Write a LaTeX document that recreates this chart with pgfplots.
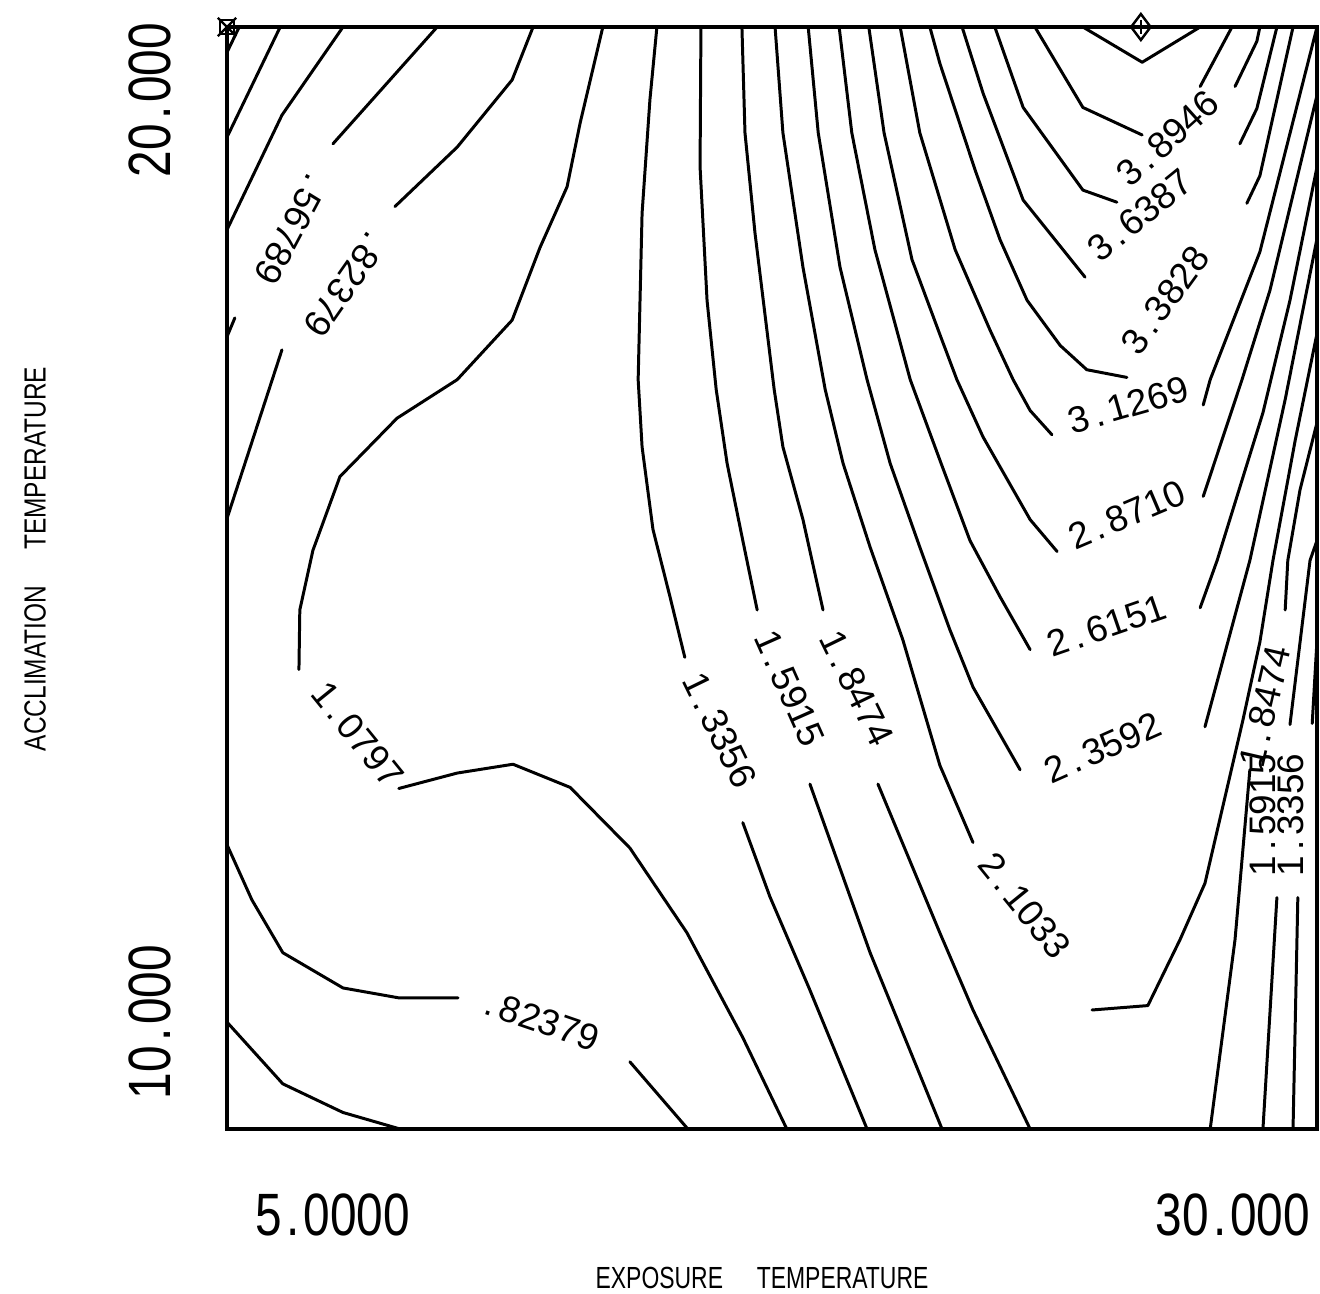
\documentclass[border=0pt]{standalone}
\usepackage{fontspec}
\usepackage{graphicx}
\usepackage{pgfplots}
\pgfplotsset{compat=1.18}
\newfontfamily\plotfont{Liberation Sans}

% plotter-style numbers: decimal point given its own cell
\newcommand\dd{\kern0.5mm.\kern0.5mm}
\newcommand\lab[1]{#1}
\newcommand\tickval[1]{\scalebox{0.8}[1]{#1}}
\tikzset{clab/.style={font=\plotfont\fontsize{10.5}{10.5}\selectfont, inner sep=0pt, anchor=center}}
\pgfplotsset{ct/.style={black, solid, line width=0.85pt, line join=round, line cap=round, mark=none}}

\begin{document}
\begin{tikzpicture}
\useasboundingbox (-22.7mm,-16.4mm) rectangle (109.3mm,112.9mm);
\begin{axis}[
  at={(0,0)}, anchor=south west,
  scale only axis, width=109mm, height=110.2mm,
  xmin=5, xmax=30, ymin=10, ymax=20,
  xtick=\empty, ytick=\empty,
  axis line style={line width=1.1pt},
  clip=false,
]
% --- low values near the left edge ---
\addplot[ct] coordinates {(5.00,19.77) (5.28,20.00)};
\addplot[ct] coordinates {(6.22,20.00) (5.00,19.00)};
\addplot[ct] coordinates {(7.66,20.00) (6.26,19.20) (5.00,18.16)};
% 0.56789
\addplot[ct] coordinates {(9.82,20.00) (7.43,18.94)};
\addplot[ct] coordinates {(5.18,17.36) (5.00,17.19)};
\addplot[ct] coordinates {(5.00,10.97) (6.28,10.41) (7.66,10.15) (8.97,10.00)};
% 0.82379
\addplot[ct] coordinates {(12.02,20.00) (11.54,19.52) (10.28,18.91) (8.85,18.37)};
\addplot[ct] coordinates {(6.26,17.07) (5.00,15.54)};
\addplot[ct] coordinates {(5.00,12.58) (5.57,12.08) (6.28,11.60) (7.66,11.28) (8.94,11.19) (10.30,11.19)};
\addplot[ct] coordinates {(14.24,10.61) (15.57,10.00)};
% 1.0797
\addplot[ct] coordinates {(13.62,20.00) (13.10,19.13) (12.80,18.55) (12.18,18.00) (11.54,17.34) (10.28,16.80) (8.90,16.45) (7.59,15.92) (6.97,15.25) (6.67,14.71) (6.65,14.17)};
\addplot[ct] coordinates {(8.94,13.09) (10.28,13.23) (11.56,13.31) (12.87,13.10) (14.24,12.55) (15.55,11.78) (16.83,10.83) (17.84,10.00)};
% 1.3356
\addplot[ct] coordinates {(14.86,20.00) (14.70,19.34) (14.52,18.31) (14.43,16.80) (14.52,16.19) (14.77,15.44) (15.16,14.83) (15.50,14.28)};
\addplot[ct] coordinates {(16.83,12.78) (17.45,12.11) (18.37,11.26) (19.68,10.00)};
\addplot[ct] coordinates {(29.45,10.00) (29.56,12.10)};
\addplot[ct] coordinates {(29.89,13.68) (30.00,14.44)};
% 1.5915
\addplot[ct] coordinates {(15.87,20.00) (15.85,18.73) (16.01,17.52) (16.22,16.71) (16.47,16.04) (16.83,15.34) (17.16,14.71)};
\addplot[ct] coordinates {(18.37,13.13) (19.75,11.60) (21.40,10.00)};
\addplot[ct] coordinates {(28.76,10.00) (29.08,12.10)};
\addplot[ct] coordinates {(29.38,13.67) (29.84,15.16) (30.00,15.34)};
% 1.8474
\addplot[ct] coordinates {(16.81,20.00) (16.88,19.04) (17.11,18.13) (17.55,16.71) (17.75,16.19) (18.21,15.53) (18.67,14.71)};
\addplot[ct] coordinates {(19.93,13.13) (21.35,11.78) (22.11,11.08) (23.42,10.00)};
\addplot[ct] coordinates {(27.55,10.00) (28.12,11.72) (28.46,13.26)};
\addplot[ct] coordinates {(29.27,14.71) (29.33,15.16) (29.61,15.80) (30.00,16.41)};
% 2.1033
\addplot[ct] coordinates {(17.57,20.00) (17.75,19.04) (18.21,17.82) (18.72,16.71) (19.13,16.04) (19.75,15.28) (20.50,14.44) (21.35,13.30) (22.11,12.60)};
\addplot[ct] coordinates {(24.84,11.08) (26.12,11.12) (26.86,11.72) (27.43,12.23) (28.30,13.71) (28.69,14.42) (28.99,15.16) (29.50,16.25) (30.00,17.22)};
% 2.3592
\addplot[ct] coordinates {(18.33,20.00) (18.56,19.04) (19.06,17.82) (19.68,16.80) (20.21,16.04) (20.89,15.28) (21.58,14.53) (22.11,14.01) (23.19,13.26)};
\addplot[ct] coordinates {(27.43,13.65) (28.46,15.16) (29.27,16.62) (30.00,18.08)};
% 2.6151
\addplot[ct] coordinates {(19.04,20.00) (19.33,19.04) (19.86,17.98) (20.67,16.80) (21.35,16.07) (22.04,15.34) (22.73,14.83) (23.42,14.35)};
\addplot[ct] coordinates {(27.32,14.73) (27.71,15.16) (28.76,16.50) (29.38,17.52) (30.00,18.73)};
% 2.8710
\addplot[ct] coordinates {(19.72,20.00) (20.07,19.04) (20.71,17.89) (21.35,17.21) (21.74,16.80) (22.34,16.28) (23.42,15.53) (24.04,15.24)};
\addplot[ct] coordinates {(27.39,15.74) (28.28,16.80) (28.92,17.61) (30.00,19.38)};
% 3.1269
\addplot[ct] coordinates {(20.44,20.00) (20.89,19.04) (21.70,17.98) (22.50,17.25) (23.03,16.80) (23.42,16.52) (23.92,16.30)};
\addplot[ct] coordinates {(27.39,16.57) (27.55,16.80) (28.69,17.96) (30.00,20.00)};
% 3.3828
\addplot[ct] coordinates {(21.12,20.00) (21.35,19.67) (22.16,18.70) (22.73,18.07) (23.35,17.52) (24.11,17.11) (24.72,16.89) (25.64,16.82)};
\addplot[ct] coordinates {(28.39,18.40) (28.69,18.65) (29.45,20.00)};
% 3.6387
\addplot[ct] coordinates {(21.86,20.00) (22.34,19.40) (23.26,18.43) (24.68,17.73)};
\addplot[ct] coordinates {(28.23,18.94) (28.62,19.26) (29.08,20.00)};
% 3.8946
\addplot[ct] coordinates {(22.61,20.00) (23.26,19.27) (24.63,18.52) (25.41,18.41)};
\addplot[ct] coordinates {(28.12,19.46) (28.62,19.87) (28.69,20.00)};
% 4.1505
\addplot[ct] coordinates {(23.53,20.00) (24.63,19.27) (25.99,19.02)};
\addplot[ct] coordinates {(27.32,19.46) (28.05,20.00)};
% 4.4064
\addplot[ct] coordinates {(24.63,20.00) (25.99,19.68) (27.32,20.00)};

% minimum and maximum markers on the border
\addplot[black, only marks, mark=square, mark size=0.7mm, mark options={line width=0.7pt}] coordinates {(5,20)};
\addplot[black, only marks, mark=x, mark size=1.3mm, mark options={line width=0.7pt}] coordinates {(5,20)};
\addplot[black, only marks, mark=diamond, mark size=1.3mm, mark options={line width=0.7pt}] coordinates {(25.96,20)};
\addplot[black, only marks, mark=|, mark size=0.7mm, mark options={line width=0.7pt}] coordinates {(25.96,20)};

% contour labels
\node[clab, rotate=-118] at (axis cs:6.51,18.18) {\lab{\dd56789}};
\node[clab, rotate=-125] at (axis cs:7.75,17.68) {\lab{\dd82379}};
\node[clab, rotate=-51]  at (axis cs:8.00,13.58) {\lab{1\dd0797}};
\node[clab, rotate=-19]  at (axis cs:12.18,10.99) {\lab{\dd82379}};
\node[clab, rotate=-64]  at (axis cs:16.31,13.62) {\lab{1\dd3356}};
\node[clab, rotate=-66]  at (axis cs:17.91,14.00) {\lab{1\dd5915}};
\node[clab, rotate=-64]  at (axis cs:19.45,14.00) {\lab{1\dd8474}};
\node[clab, rotate=-51]  at (axis cs:23.30,12.03) {\lab{2\dd1033}};
\node[clab, rotate=24]   at (axis cs:25.09,13.46) {\lab{2\dd3592}};
\node[clab, rotate=19]   at (axis cs:25.18,14.57) {\lab{2\dd6151}};
\node[clab, rotate=23]   at (axis cs:25.64,15.57) {\lab{2\dd8710}};
\node[clab, rotate=16]   at (axis cs:25.67,16.57) {\lab{3\dd1269}};
\node[clab, rotate=54]   at (axis cs:26.51,17.52) {\lab{3\dd3828}};
\node[clab, rotate=39]   at (axis cs:25.94,18.29) {\lab{3\dd6387}};
\node[clab, rotate=42]   at (axis cs:26.58,18.99) {\lab{3\dd8946}};
\node[clab, rotate=77]   at (axis cs:28.81,13.83) {\lab{1\dd8474}};
\node[clab, rotate=90]   at (axis cs:28.76,12.85) {\lab{1\dd5915}};
\node[clab, rotate=90]   at (axis cs:29.40,12.85) {\lab{1\dd3356}};
\end{axis}

% end values and axis names
\begin{scope}[every node/.style={inner sep=0pt}]
\node[font=\plotfont\fontsize{17}{17}\selectfont] at (10.6mm,-8.6mm) {\tickval{5\dd0000}};
\node[font=\plotfont\fontsize{17}{17}\selectfont] at (100.6mm,-8.6mm) {\tickval{30\dd000}};
\node[font=\plotfont\fontsize{17}{17}\selectfont, rotate=90] at (-7.7mm,102.9mm) {\tickval{20\dd000}};
\node[font=\plotfont\fontsize{17}{17}\selectfont, rotate=90] at (-7.7mm,10.7mm) {\tickval{10\dd000}};
\node[font=\plotfont\fontsize{8.7}{9}\selectfont] at (53.5mm,-14.9mm) {\scalebox{0.75}[1]{EXPOSURE\hspace{4.5mm}TEMPERATURE}};
\node[font=\plotfont\fontsize{8.7}{9}\selectfont, rotate=90] at (-19.2mm,57mm) {\scalebox{0.8}[1]{ACCLIMATION\hspace{4.5mm}TEMPERATURE}};
\end{scope}
\end{tikzpicture}
\end{document}
